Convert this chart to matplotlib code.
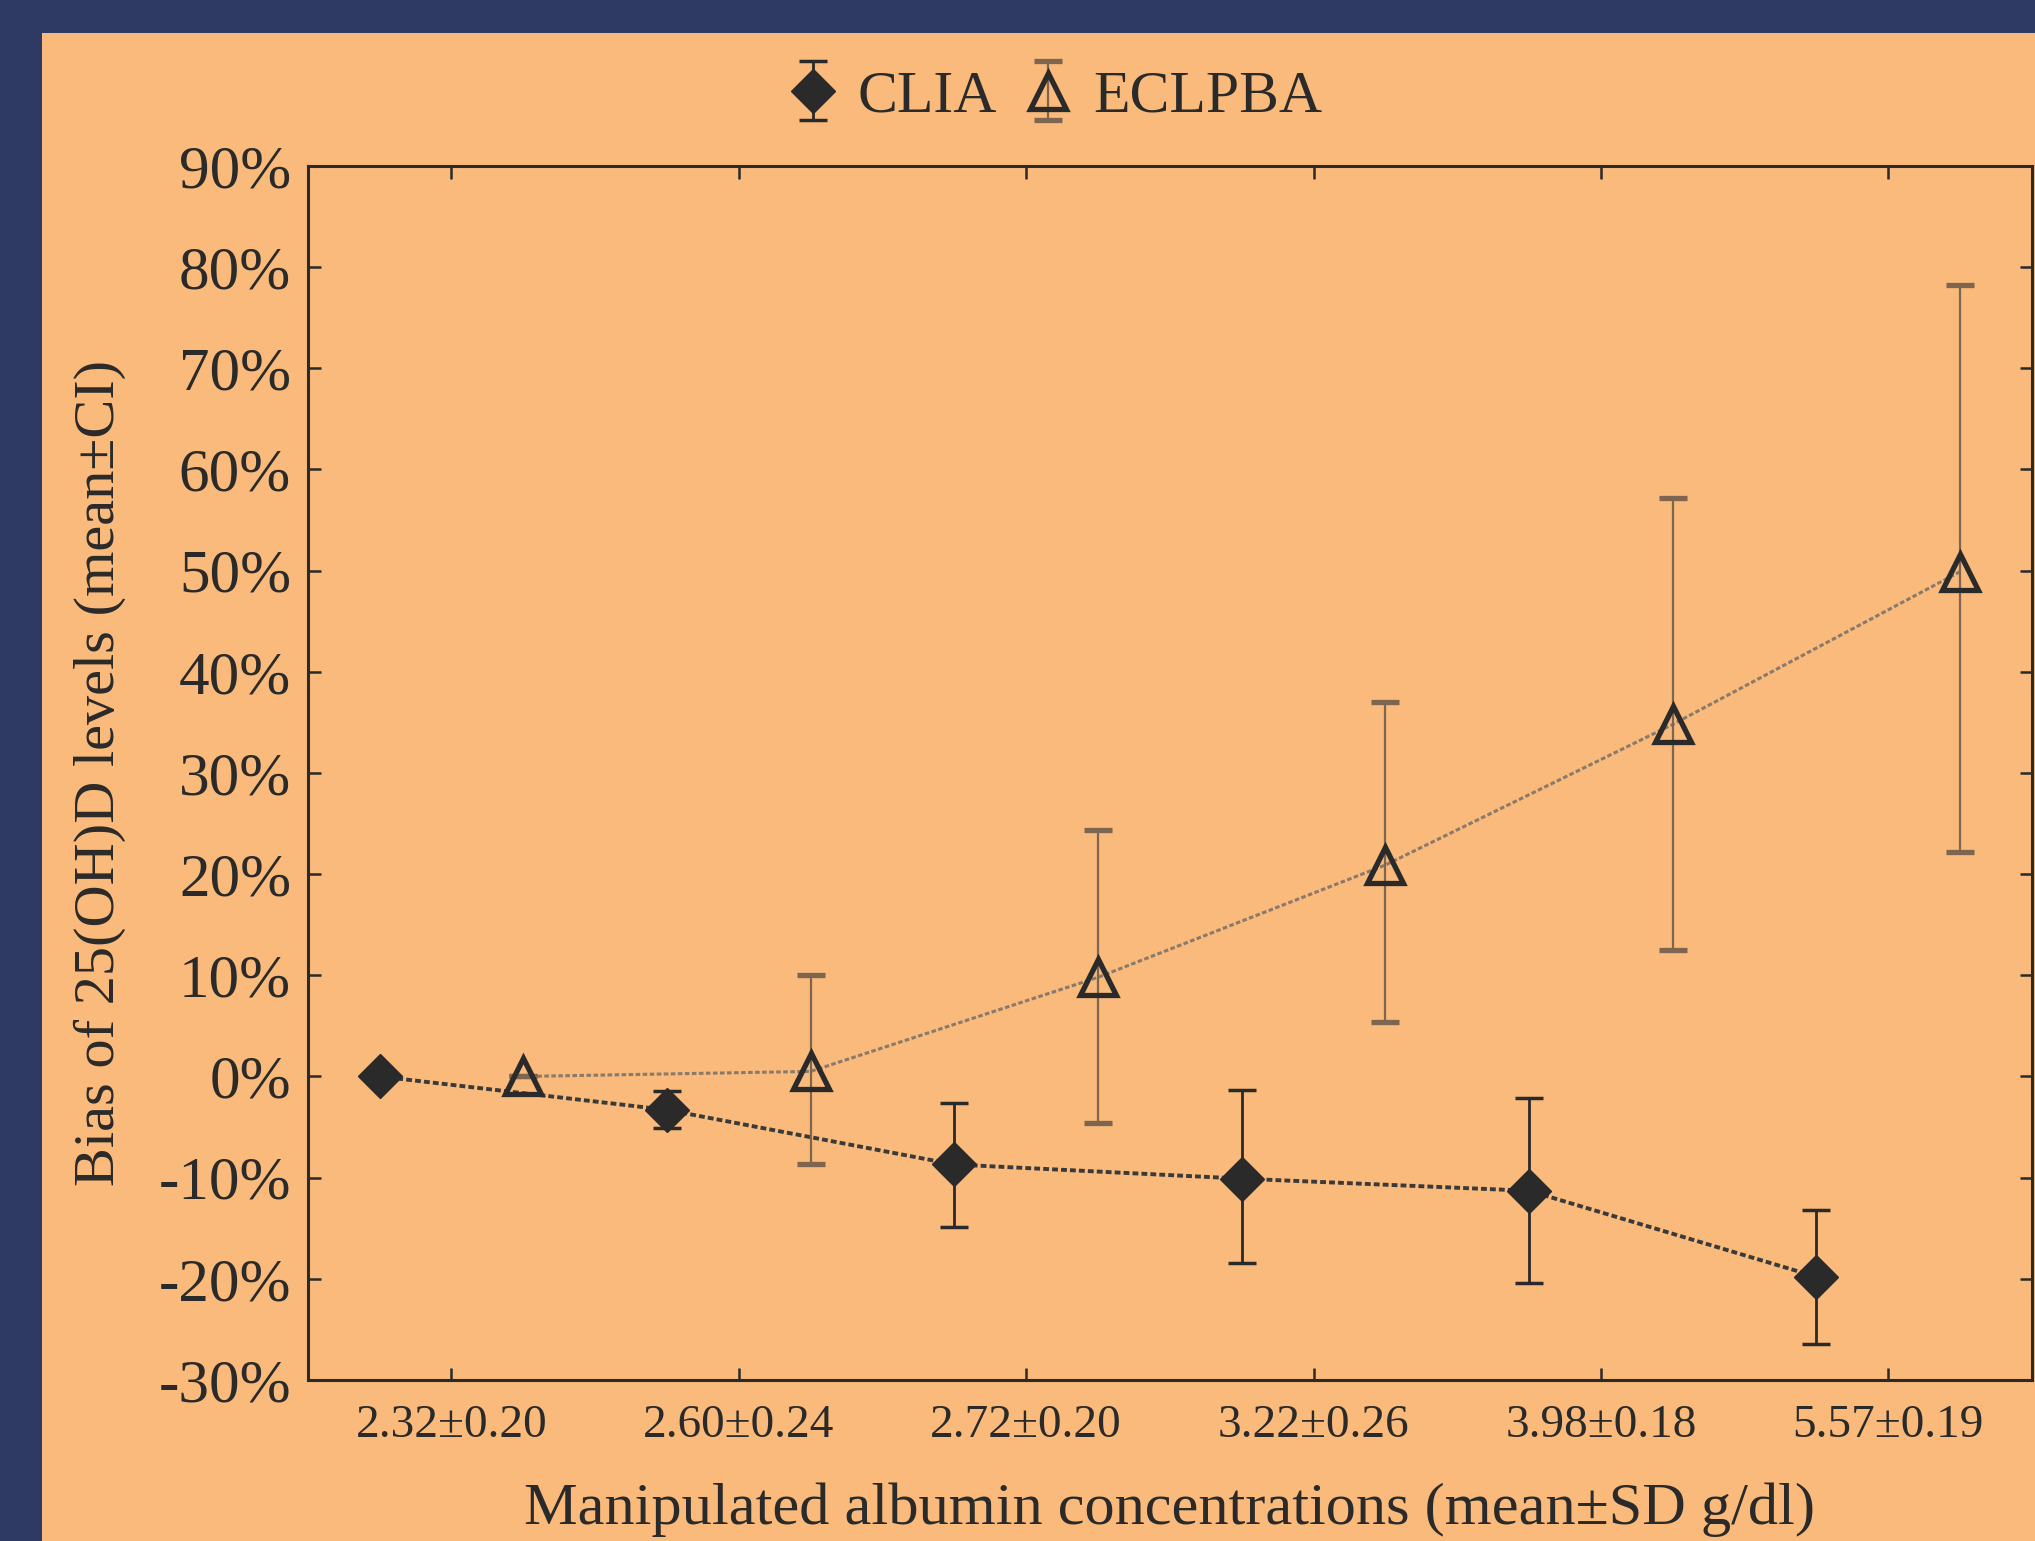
import numpy as np
import matplotlib
matplotlib.use("Agg")
import matplotlib.pyplot as plt
from matplotlib.patches import Rectangle

# albumin concentration groups (x tick labels)
groups = ["2.32±0.20", "2.60±0.24", "2.72±0.20", "3.22±0.26", "3.98±0.18", "5.57±0.19"]

# bias in %
clia_mean = [0.0, -3.3, -8.7, -10.1, -11.3, -19.8]
clia_low = [0.0, -5.1, -14.9, -18.4, -20.4, -26.4]
clia_high = [0.0, -1.4, -2.6, -1.3, -2.1, -13.2]

eclpba_mean = [0.0, 0.5, 9.8, 20.9, 34.8, 49.9]
eclpba_low = [0.0, -8.7, -4.6, 5.4, 12.5, 22.2]
eclpba_high = [0.0, 10.0, 24.4, 37.0, 57.2, 78.2]

navy = "#2E3A63"
peach = "#F9BA7B"
ink = "#2A2A2A"

plt.rcParams["font.family"] = ["Liberation Serif", "DejaVu Serif"]

fig = plt.figure(figsize=(20.35, 15.41), dpi=100)
fig.patch.set_facecolor(navy)
fig.patches.append(Rectangle((0.0205, 0.0), 1.0, 0.9786, transform=fig.transFigure,
                             facecolor=peach, edgecolor="none", zorder=-10))

ax = fig.add_axes([0.1512, 0.1045, 0.8473, 0.7878])
ax.set_zorder(5)
ax.set_facecolor(peach)

x = np.arange(len(groups))
cm = np.array(clia_mean)
em = np.array(eclpba_mean)
clia_err = [cm - np.array(clia_low), np.array(clia_high) - cm]
ecl_err = [em - np.array(eclpba_low), np.array(eclpba_high) - em]

eb1 = ax.errorbar(x - 0.25, cm, yerr=clia_err, fmt="D", ms=22, color=ink, mfc=ink, mec=ink,
                  ecolor=ink, elinewidth=2.0, capsize=10, capthick=2.5, zorder=4)
ax.plot(x - 0.25, cm, linestyle=(0, (1.5, 0.8)), color="#3a3a3a", lw=2.8, zorder=3)

eb2 = ax.errorbar(x + 0.25, em, yerr=ecl_err, fmt="^", ms=26, color=ink, mfc="none", mec=ink,
                  mew=3.8, ecolor="#7d6550", elinewidth=1.6, capsize=10, capthick=1.6, zorder=4)
ax.plot(x + 0.25, em, linestyle=(0, (1.5, 0.8)), color="#8a7a6a", lw=2.2, zorder=3)

ax.set_xlim(-0.5, 5.5)
ax.set_ylim(-30, 90)
ax.set_yticks(np.arange(-30, 91, 10))
ax.set_yticklabels([f"{v}%" for v in range(-30, 91, 10)])
ax.set_xticks(x)
ax.set_xticklabels(groups)

ax.tick_params(axis="both", direction="in", length=9, width=1.8, color=ink,
               top=True, right=True, labelcolor=ink)
ax.tick_params(axis="y", labelsize=44, pad=12)
ax.tick_params(axis="x", labelsize=34, pad=18)
for s in ax.spines.values():
    s.set_linewidth(2.2)
    s.set_color(ink)

ax.set_xlabel("Manipulated albumin concentrations (mean±SD g/dl)", fontsize=43.5, color=ink, labelpad=25)
ax.set_ylabel("Bias of 25(OH)D levels (mean±CI)", fontsize=42, color=ink, labelpad=23)

ax.legend([eb1, eb2], ["CLIA", "ECLPBA"], ncol=2, frameon=False, loc="center",
          bbox_to_anchor=(0.518, 0.937), bbox_transform=fig.transFigure,
          fontsize=43, handlelength=0.9, handletextpad=0.3, columnspacing=0.4,
          labelcolor=ink)

fig.savefig("out.png", dpi=100, facecolor=fig.get_facecolor())
